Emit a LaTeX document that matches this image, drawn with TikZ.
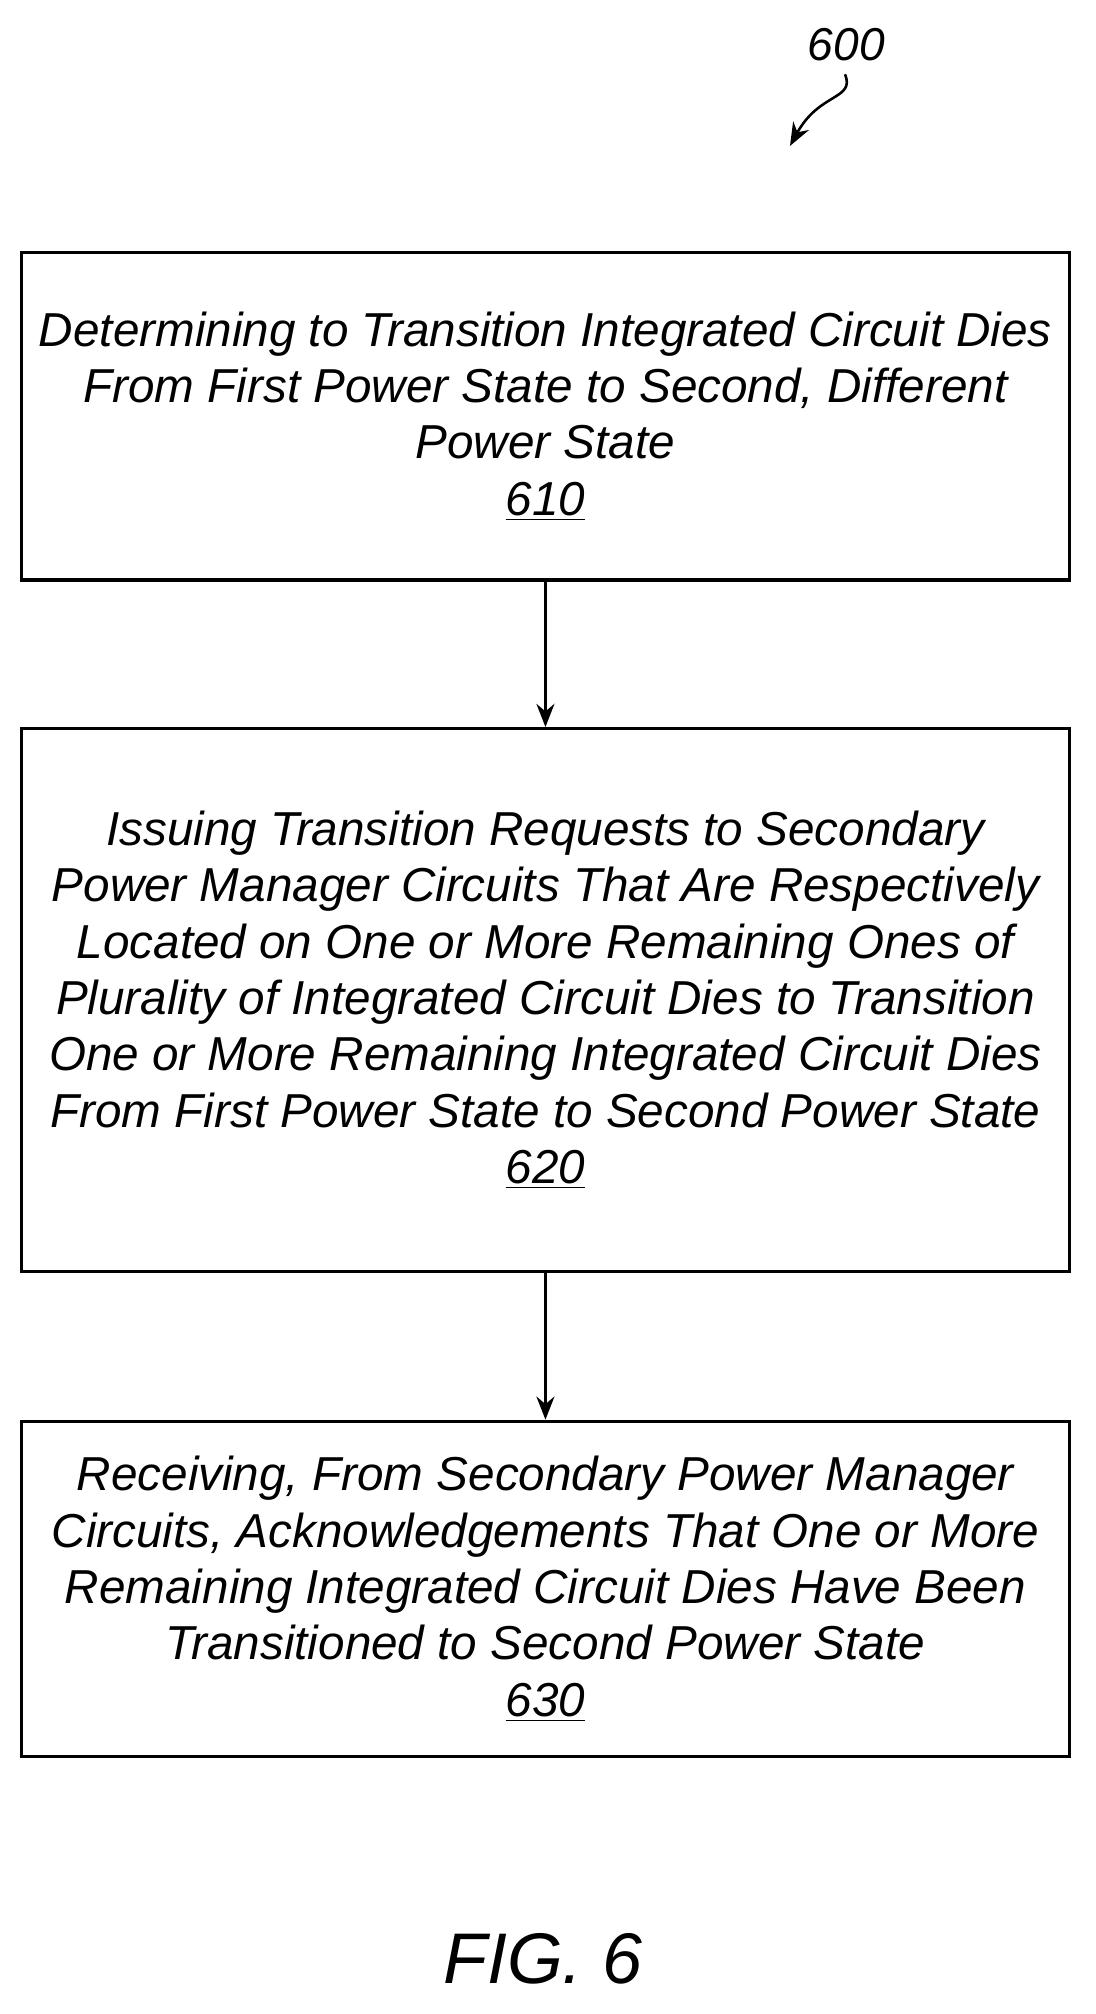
\documentclass[tikz,border=0pt]{standalone}
\usepackage{fontspec}
\setmainfont{Liberation Sans}
\usetikzlibrary{arrows.meta}

\tikzset{
  stepbox/.style={draw, line width=1.2pt, minimum width=409pt, align=center,
    font=\itshape\fontsize{18.6}{22}\selectfont, inner sep=0pt},
  flow/.style={-{Stealth[length=9pt,width=7pt]}, line width=1.2pt}
}

\begin{document}
\begin{tikzpicture}[x=0.5pt,y=-0.5pt]
\useasboundingbox (0,0) rectangle (856,1573);

% steps
\node[stepbox, minimum height=128pt] (s610) at (426,325)
  {Determining to Transition Integrated Circuit Dies\\From First Power State to Second, Different\\Power State\\\underline{610}};
\node[stepbox, minimum height=212pt] (s620) at (426,781)
  {Issuing Transition Requests to Secondary\\Power Manager Circuits That Are Respectively\\Located on One or More Remaining Ones of\\Plurality of Integrated Circuit Dies to Transition\\One or More Remaining Integrated Circuit Dies\\From First Power State to Second Power State\\\underline{620}};
\node[stepbox, minimum height=131pt] (s630) at (426,1241)
  {Receiving, From Secondary Power Manager\\Circuits, Acknowledgements That One or More\\Remaining Integrated Circuit Dies Have Been\\Transitioned to Second Power State\\\underline{630}};

\draw[flow] (s610) -- (s620);
\draw[flow] (s620) -- (s630);

% reference label
\node[font=\itshape\fontsize{18}{20}\selectfont] (lbl) at (661,35) {600};
\coordinate (tip) at (617,114);
\draw[flow, line width=1pt] (660,58) .. controls (668,78) and (640,72) .. (tip);

\node[font=\itshape\fontsize{28}{30}\selectfont] (fig) at (424,1530) {FIG. 6};
\end{tikzpicture}
\end{document}
